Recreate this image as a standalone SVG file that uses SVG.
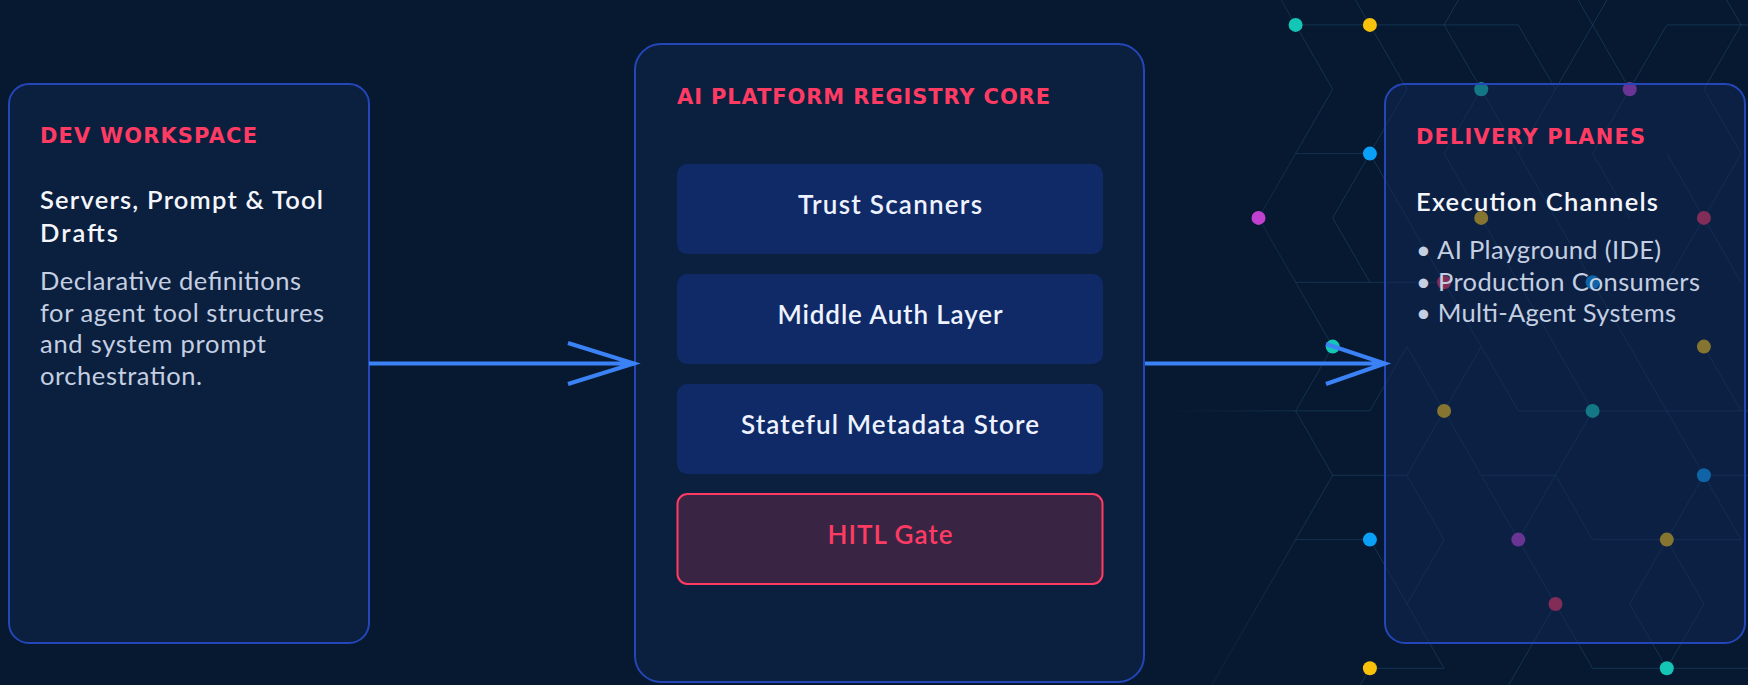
<svg xmlns="http://www.w3.org/2000/svg" width="1748" height="685" viewBox="0 0 1748 685">
<defs>
<style>
.bg{fill:#061930}
.card{fill:#0b1f3e;stroke:#2446b8;stroke-width:2}
.cardT{fill:rgba(18,40,86,0.5);stroke:#2446b8;stroke-width:2}
.item{fill:#0f2a66}
.hitl{fill:#3a2443;stroke:#ff3b64;stroke-width:2}
.hdr{font-family:"DejaVu Sans",sans-serif;font-weight:bold;font-size:21px;fill:#ff3b64}
.ttl{font-family:Lato,"Liberation Sans",sans-serif;font-weight:600;font-size:25.5px;fill:#f4f6fb}
.dsc{font-family:Lato,"Liberation Sans",sans-serif;font-weight:400;font-size:25.5px;fill:#c4cfe2}
.itm{font-family:Lato,"Liberation Sans",sans-serif;font-weight:600;font-size:26px;fill:#eef2ff;text-anchor:middle}
.hitlt{font-family:Lato,"Liberation Sans",sans-serif;font-weight:600;font-size:26px;fill:#ff3b64;text-anchor:middle}
.grid{fill:none;stroke:#3a78a8;stroke-opacity:0.28;stroke-width:1}
.arr{fill:none;stroke:#3b82f6;stroke-width:4}
.teal{fill:#14c6b6}.yel{fill:#f8c20a}.blu{fill:#0aa0f8}.mag{fill:#c040d0}.pnk{fill:#f0335a}
</style>
<linearGradient id="fadeG" gradientUnits="userSpaceOnUse" x1="1150" y1="0" x2="1310" y2="0">
<stop offset="0" stop-color="#fff" stop-opacity="0"/>
<stop offset="1" stop-color="#fff" stop-opacity="1"/>
</linearGradient>
<mask id="fade" maskUnits="userSpaceOnUse" x="1000" y="-50" width="800" height="800">
<rect x="1000" y="-50" width="800" height="800" fill="url(#fadeG)"/>
</mask>
</defs>
<rect class="bg" x="0" y="0" width="1748" height="685"/>

<g id="pattern">
<g class="grid" mask="url(#fade)">
<path d="M1258.5,-39.4 L1332.7,89.2 L1258.5,217.9 L1332.7,346.6 L1295.6,410.9 L1332.7,475.3 L1184.3,732.6"/>
<path d="M1295.6,24.9 H1518.3"/>
<path d="M1332.7,-39.4 L1407,89.2 L1332.7,217.9 L1369.9,282.3"/>
<path d="M1295.6,153.6 H1369.9"/>
<path d="M1369.9,153.6 L1444.1,282.3"/>
<path d="M1295.6,282.3 H1444.1"/>
<path d="M1481.2,-39.4 L1444.1,24.9 L1481.2,89.2 L1444.1,153.6 L1481.2,217.9 L1555.5,346.6"/>
<path d="M1518.3,24.9 L1555.5,89.2 L1518.3,153.6 L1481.2,89.2"/>
<path d="M1518.3,153.6 L1592.6,282.3"/>
<path d="M1555.5,-39.4 L1629.7,89.2 M1629.7,-39.4 L1555.5,89.2"/>
<path d="M1666.8,24.9 H1815.3"/>
<path d="M1666.8,24.9 L1592.6,153.6 L1629.7,217.9"/>
<path d="M1703.9,-39.4 L1741.1,24.9 L1703.9,89.2 L1741.1,153.6 L1666.8,282.3"/>
<path d="M1666.8,153.6 L1741.1,282.3"/>
<path d="M1592.6,282.3 L1741.1,539.6"/>
<path d="M1444.1,282.3 L1481.2,346.6"/>
<path d="M1369.9,410.9 L1407,346.6 L1444.1,410.9 L1481.2,346.6 L1518.3,410.9"/>
<path d="M1147.1,410.9 H1369.9"/>
<path d="M1518.3,410.9 H1780"/>
<path d="M1703.9,346.6 L1741.1,410.9"/>
<path d="M1555.5,346.6 L1592.6,410.9 L1518.3,539.6 L1555.5,604 L1481.2,732.6"/>
<path d="M1555.5,604 L1592.6,668.3 H1790"/>
<path d="M1444.1,410.9 L1407,475.3 L1444.1,539.6 L1407,604 L1444.1,668.3"/>
<path d="M1444.1,410.9 L1518.3,539.6"/>
<path d="M1332.7,475.3 H1407"/>
<path d="M1481.2,475.3 H1555.5 L1592.6,539.6 H1741.1"/>
<path d="M1703.9,475.3 L1666.8,539.6 L1629.7,604 L1666.8,668.3 L1703.9,604 L1666.8,539.6"/>
<path d="M1703.9,475.3 H1778"/>
<path d="M1295.6,539.6 H1369.9 L1407,604"/>
<path d="M1369.9,668.3 H1444.1 M1369.9,668.3 L1332.7,732.6"/>
</g>
<g id="dots">
<circle class="teal" cx="1295.6" cy="24.9" r="7"/>
<circle class="yel" cx="1369.9" cy="24.9" r="7"/>
<circle class="teal" cx="1481.2" cy="89.2" r="7"/>
<circle class="mag" cx="1629.7" cy="89.2" r="7"/>
<circle class="blu" cx="1369.9" cy="153.6" r="7"/>
<circle class="mag" cx="1258.5" cy="217.9" r="7"/>
<circle class="yel" cx="1481.2" cy="217.9" r="7"/>
<circle class="pnk" cx="1703.9" cy="217.9" r="7"/>
<circle class="pnk" cx="1444.1" cy="282.3" r="7"/>
<circle class="blu" cx="1592.6" cy="282.3" r="7"/>
<circle class="teal" cx="1332.7" cy="346.6" r="7"/>
<circle class="yel" cx="1703.9" cy="346.6" r="7"/>
<circle class="yel" cx="1444.1" cy="410.9" r="7"/>
<circle class="teal" cx="1592.6" cy="410.9" r="7"/>
<circle class="blu" cx="1703.9" cy="475.3" r="7"/>
<circle class="blu" cx="1369.9" cy="539.6" r="7"/>
<circle class="mag" cx="1518.3" cy="539.6" r="7"/>
<circle class="yel" cx="1666.8" cy="539.6" r="7"/>
<circle class="pnk" cx="1555.5" cy="604" r="7"/>
<circle class="yel" cx="1369.9" cy="668.3" r="7"/>
<circle class="teal" cx="1666.8" cy="668.3" r="7"/>
</g>
</g>

<g id="dev-workspace">
<rect class="card" x="9" y="84" width="360" height="559" rx="20"/>
<text class="hdr" x="40" y="143" textLength="217" lengthAdjust="spacing">DEV WORKSPACE</text>
<text class="ttl" x="40" y="209" textLength="283" lengthAdjust="spacing">Servers, Prompt &amp; Tool</text>
<text class="ttl" x="40" y="241.5" textLength="78" lengthAdjust="spacing">Drafts</text>
<text class="dsc" x="40" y="290" textLength="261" lengthAdjust="spacing">Declarative definitions</text>
<text class="dsc" x="40" y="321.7" textLength="284" lengthAdjust="spacing">for agent tool structures</text>
<text class="dsc" x="40" y="353.4" textLength="226" lengthAdjust="spacing">and system prompt</text>
<text class="dsc" x="40" y="385" textLength="162" lengthAdjust="spacing">orchestration.</text>
</g>

<g id="registry-core">
<rect class="card" x="635" y="44" width="509" height="638" rx="26"/>
<text class="hdr" x="677" y="104" textLength="373" lengthAdjust="spacing">AI PLATFORM REGISTRY CORE</text>
<g id="trust-scanners">
<rect class="item" x="677" y="164" width="426" height="90" rx="10"/>
<text class="itm" x="890" y="214" textLength="184" lengthAdjust="spacing">Trust Scanners</text>
</g>
<g id="middle-auth">
<rect class="item" x="677" y="274" width="426" height="90" rx="10"/>
<text class="itm" x="890" y="324" textLength="225" lengthAdjust="spacing">Middle Auth Layer</text>
</g>
<g id="metadata-store">
<rect class="item" x="677" y="384" width="426" height="90" rx="10"/>
<text class="itm" x="890" y="434" textLength="298" lengthAdjust="spacing">Stateful Metadata Store</text>
</g>
<g id="hitl-gate">
<rect class="hitl" x="677.5" y="494" width="425" height="90" rx="10"/>
<text class="hitlt" x="890" y="544" textLength="125" lengthAdjust="spacing">HITL Gate</text>
</g>
</g>

<g id="delivery-planes">
<rect class="cardT" x="1385" y="84" width="360" height="559" rx="20"/>
<text class="hdr" x="1416" y="144" textLength="229" lengthAdjust="spacing">DELIVERY PLANES</text>
<text class="ttl" x="1416" y="210.5" textLength="242" lengthAdjust="spacing">Execution Channels</text>
<text class="dsc" x="1416" y="258.5" textLength="245" lengthAdjust="spacing">• AI Playground (IDE)</text>
<text class="dsc" x="1416" y="290.5" textLength="284" lengthAdjust="spacing">• Production Consumers</text>
<text class="dsc" x="1416" y="322.4" textLength="260" lengthAdjust="spacing">• Multi-Agent Systems</text>
</g>

<g id="connectors">
<path class="arr" d="M369,363.5 H633 M568,343 L634,363.5 L568,384"/>
<path class="arr" d="M1145,363.5 H1384 M1326,344 L1385,363.5 L1326,384"/>
</g>
</svg>
